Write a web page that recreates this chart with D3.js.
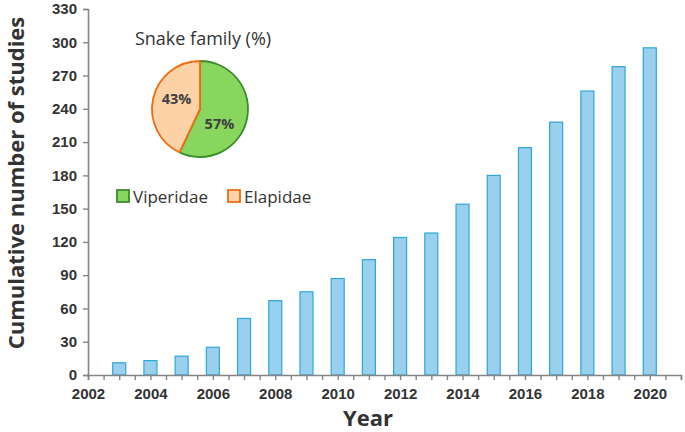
<!DOCTYPE html>
<html>
<head>
<meta charset="utf-8">
<script src="https://cdn.jsdelivr.net/npm/d3@7"></script>
<style>
  body { margin: 0; background: #fff; }
  svg { display: block; }
</style>
</head>
<body>
<div id="chart"></div>
<script>
const years = [2003, 2004, 2005, 2006, 2007, 2008, 2009, 2010, 2011, 2012, 2013, 2014, 2015, 2016, 2017, 2018, 2019, 2020]
const studies = [11, 13, 17, 25, 51, 67, 75, 87, 104, 124, 128, 154, 180, 205, 228, 256, 278, 295]
const yTicks = [0, 30, 60, 90, 120, 150, 180, 210, 240, 270, 300, 330]
const xTicks = [2002, 2004, 2006, 2008, 2010, 2012, 2014, 2016, 2018, 2020]
const families = ["Viperidae", "Elapidae"]
const familyShare = [57, 43]

const W = 685, H = 432
const margin = {top: 9, right: 4, bottom: 57, left: 88}

const svg = d3.select("#chart").append("svg")
    .attr("width", W)
    .attr("height", H)

const x = d3.scaleLinear()
    .domain([2002, 2021])
    .range([margin.left, W - margin.right])

const y = d3.scaleLinear()
    .domain([0, 330])
    .range([H - margin.bottom, margin.top])

const axisColor = "#858585"
const tickText = "#333"

// bars
const barW = 13
svg.append("g")
  .selectAll("rect")
  .data(years)
  .join("rect")
    .attr("x", d => x(d) - barW / 2)
    .attr("y", (d, i) => y(studies[i]))
    .attr("width", barW)
    .attr("height", (d, i) => y(0) - y(studies[i]))
    .attr("fill", "#99d0ee")
    .attr("stroke", "#2ea6da")
    .attr("stroke-width", 1.2)

// x axis
const xAxis = svg.append("g")
    .attr("transform", `translate(0,${y(0)})`)
    .call(d3.axisBottom(x)
      .tickValues(d3.range(2002, 2021.01, 0.5))
      .tickSize(5)
      .tickFormat(d => xTicks.includes(d) ? d : ""))
xAxis.select(".domain").attr("stroke", axisColor).attr("stroke-width", 1.6)
xAxis.selectAll(".tick line").attr("stroke", axisColor).attr("stroke-width", 1.4)
xAxis.selectAll(".tick text")
    .attr("font-family", "Liberation Sans, Arial, sans-serif")
    .attr("font-weight", "bold")
    .attr("font-size", 15)
    .attr("fill", tickText)
    .attr("y", 10)
    .attr("dy", "0.9em")

// y axis
const yAxis = svg.append("g")
    .attr("transform", `translate(${margin.left},0)`)
    .call(d3.axisLeft(y).tickValues(yTicks).tickSize(5).tickSizeOuter(5))
yAxis.select(".domain").attr("stroke", axisColor).attr("stroke-width", 1.6)
yAxis.selectAll(".tick line").attr("stroke", axisColor).attr("stroke-width", 1.4)
yAxis.selectAll(".tick text")
    .attr("font-family", "Liberation Sans, Arial, sans-serif")
    .attr("font-weight", "bold")
    .attr("font-size", 15)
    .attr("fill", tickText)
    .attr("x", -11)

// axis titles
svg.append("text")
    .attr("transform", `translate(24,${183}) rotate(-90)`)
    .attr("text-anchor", "middle")
    .attr("font-family", "Open Sans, sans-serif")
    .attr("font-weight", "bold")
    .attr("font-size", 22)
    .attr("fill", "#333")
    .text("Cumulative number of studies")

svg.append("text")
    .attr("x", 368)
    .attr("y", 426)
    .attr("text-anchor", "middle")
    .attr("font-family", "Open Sans, sans-serif")
    .attr("font-weight", "bold")
    .attr("font-size", 22)
    .attr("fill", "#333")
    .text("Year")

// pie inset
const pieCx = 200, pieCy = 109, pieR = 48
const pieData = d3.pie().sort(null)(familyShare)
const arc = d3.arc().innerRadius(0).outerRadius(pieR)
const labelArc = d3.arc().innerRadius(pieR * 0.5).outerRadius(pieR * 0.5)
const labelNudge = [[-4, 10], [0, -5]]
const pieFill = ["#88d65d", "#fdd2a6"]
const pieStroke = ["#3a8d2c", "#f26b12"]

svg.append("text")
    .attr("x", 203)
    .attr("y", 45)
    .attr("text-anchor", "middle")
    .attr("font-family", "Open Sans, sans-serif")
    .attr("font-size", 18)
    .attr("fill", "#333")
    .text("Snake family (%)")

const pie = svg.append("g").attr("transform", `translate(${pieCx},${pieCy})`)
pie.selectAll("path")
  .data(pieData)
  .join("path")
    .attr("d", arc)
    .attr("fill", (d, i) => pieFill[i])
    .attr("stroke", (d, i) => pieStroke[i])
    .attr("stroke-width", 1.8)
    .attr("stroke-linejoin", "round")

pie.selectAll("text")
  .data(pieData)
  .join("text")
    .attr("transform", (d, i) => {
      const c = labelArc.centroid(d)
      return `translate(${c[0] + labelNudge[i][0]},${c[1] + labelNudge[i][1]})`
    })
    .attr("text-anchor", "middle")
    .attr("dy", "0.35em")
    .attr("font-family", "Open Sans, sans-serif")
    .attr("font-weight", "bold")
    .attr("font-size", 14.5)
    .attr("fill", "#404040")
    .text(d => d.data + "%")

// legend
const legendX = [117, 228]
const legend = svg.append("g")
  .selectAll("g")
  .data(families)
  .join("g")
    .attr("transform", (d, i) => `translate(${legendX[i]},190)`)
legend.append("rect")
    .attr("width", 12)
    .attr("height", 12)
    .attr("fill", (d, i) => pieFill[i])
    .attr("stroke", (d, i) => pieStroke[i])
    .attr("stroke-width", 1.8)
legend.append("text")
    .attr("x", 16)
    .attr("y", 12.5)
    .attr("font-family", "Open Sans, sans-serif")
    .attr("font-size", 17)
    .attr("fill", "#333")
    .text(d => d)
</script>
</body>
</html>
